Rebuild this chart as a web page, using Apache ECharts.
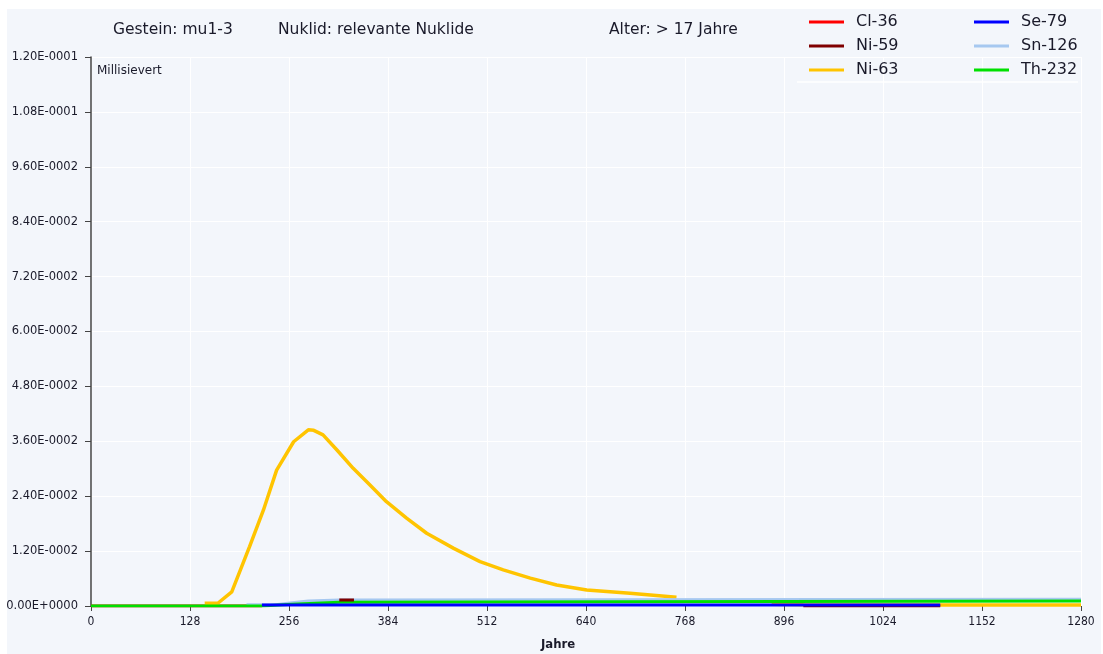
<!DOCTYPE html>
<html><head><meta charset="utf-8">
<script src="https://cdn.jsdelivr.net/npm/echarts@6/dist/echarts.min.js"></script>
<style>html,body{margin:0;padding:0;background:#fff}#c{width:1103px;height:654px}</style>
</head><body><div id="c"></div>
<script>
// ---- data (Jahre, Millisievert) ----
var xTicks = [0,128,256,384,512,640,768,896,1024,1152,1280];
var legendCol1 = ['Cl-36','Ni-59','Ni-63'];
var legendCol2 = ['Se-79','Sn-126','Th-232'];

var cl36Years = [0, 221];
var cl36Values = [0, 0];

var ni59Years = [321, 340, 340, 921, 1098];
var ni59Values = [0.0013, 0.0013, null, 0, 0];

var ni63Years = [147,164,182,205,223,240,262,281,288,300,318,339,361,382,408,434,469,503,533,568,602,641,697,757,800,880,921,1098,1280];
var ni63Values = [0.0006,0.0006,0.0031,0.0130,0.0210,0.0297,0.0359,0.0385,0.0384,0.0374,0.0341,0.0301,0.0264,0.0228,0.0192,0.0159,0.0126,0.0097,0.0079,0.0061,0.0046,0.0035,0.0028,0.0019,null,0.0004,0.0003,0.0002,0.0002];

var se79Years = [221, 1098];
var se79Values = [0.0002, 0.0002];

var sn126Years = [201,239,239,260,260,281,281,321,321,1280];
var sn126Values = [0.0003,0.0003,0.0007,0.0007,0.0011,0.0011,0.0013,0.0013,0.0015,0.0015];

var th232Years = [0,221,221,260,260,321,321,1280];
var th232Values = [0,0,0.0004,0.0004,0.0008,0.0008,0.0011,0.0011];

var colors = {'Cl-36':'#ff0000','Ni-59':'#800000','Ni-63':'#ffc400','Se-79':'#0000ff','Sn-126':'#a6c8f0','Th-232':'#00e000'};

function zip(xs, ys){ return xs.map(function(x,i){ return [x, ys[i]]; }); }
function fmt(v){
  if (Math.abs(v) < 1e-12) return '0.00E+0000';
  var s = v.toExponential(2).split('e');
  var e = parseInt(s[1],10);
  return s[0] + 'E' + (e<0?'-':'+') + String(Math.abs(e)).padStart(4,'0');
}
var F = '"DejaVu Sans",sans-serif';
var FC = '"DejaVu Sans Condensed","DejaVu Sans",sans-serif';
function ser(name, xs, ys, w){
  return {name:name, type:'line', data:zip(xs,ys), symbol:'none', connectNulls:false,
    lineStyle:{width:w||3, color:colors[name]}, itemStyle:{color:colors[name]}, animation:false};
}
var chart = echarts.init(document.getElementById('c'), null, {renderer:'canvas'});
chart.setOption({
  backgroundColor:'#ffffff',
  animation:false,
  graphic:[
    {type:'rect', shape:{x:7,y:9,width:1094,height:645}, style:{fill:'#f3f6fb'}, z:-10, silent:true},
    {type:'line', shape:{x1:797,y1:82,x2:1078,y2:82}, style:{stroke:'#ffffff',lineWidth:1.5}, z:1},
    {type:'text', left:113, top:22, style:{text:'Gestein: mu1-3', font:'15.5px '+F, fill:'#1a1a2a'}},
    {type:'text', left:278, top:22, style:{text:'Nuklid: relevante Nuklide', font:'15.5px '+F, fill:'#1a1a2a'}},
    {type:'text', left:609, top:22, style:{text:'Alter: > 17 Jahre', font:'15.5px '+F, fill:'#1a1a2a'}},
    {type:'text', left:97, top:65, style:{text:'Millisievert', font:'12px '+F, fill:'#1a1a2a'}, z:10},
    {type:'text', left:541, top:638, style:{text:'Jahre', font:'bold 13px '+FC, fill:'#1a1a2a'}, z:10}
  ],
  legend:[
    {data:legendCol1, orient:'vertical', left:804, top:9, icon:'rect', itemWidth:35, itemHeight:3, itemGap:8,
     textStyle:{fontFamily:F, fontSize:16, color:'#1a1a2a', padding:[0,0,0,7]}},
    {data:legendCol2, orient:'vertical', left:969, top:9, icon:'rect', itemWidth:35, itemHeight:3, itemGap:8,
     textStyle:{fontFamily:F, fontSize:16, color:'#1a1a2a', padding:[0,0,0,7]}}
  ],
  grid:{left:91, right:22, top:57, bottom:48, containLabel:false},
  xAxis:{type:'value', min:0, max:1280, interval:128,
    axisLine:{show:false}, axisTick:{show:true, length:5, lineStyle:{color:'#444'}},
    axisLabel:{fontFamily:FC, fontSize:12, color:'#1a1a2a', margin:10, formatter:function(v){return String(v);}},
    splitLine:{show:true, lineStyle:{color:'#ffffff', width:1}}},
  yAxis:{type:'value', min:0, max:0.12, interval:0.012,
    axisLine:{show:true, lineStyle:{color:'#444', width:1.5}},
    axisTick:{show:true, length:6, lineStyle:{color:'#444'}},
    axisLabel:{fontFamily:F, fontSize:11.5, color:'#1a1a2a', margin:13, formatter:fmt},
    splitLine:{show:true, lineStyle:{color:'#ffffff', width:1}}},
  series:[
    ser('Cl-36', cl36Years, cl36Values),
    ser('Ni-63', ni63Years, ni63Values, 3.5),
    ser('Sn-126', sn126Years, sn126Values),
    ser('Th-232', th232Years, th232Values),
    ser('Ni-59', ni59Years, ni59Values),
    ser('Se-79', se79Years, se79Values)
  ]
});
</script></body></html>
